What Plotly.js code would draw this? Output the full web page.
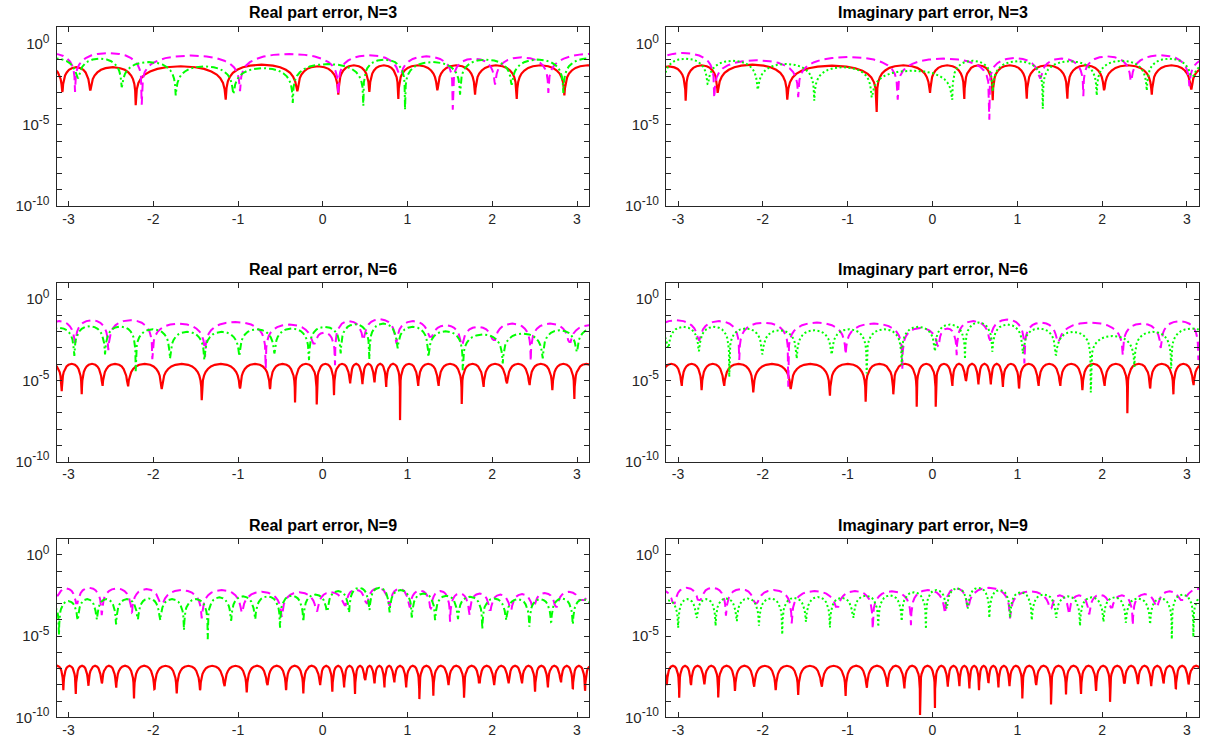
<!DOCTYPE html>
<html>
<head>
<meta charset="utf-8">
<script src="https://cdn.plot.ly/plotly-3.0.1.min.js"></script>
<style>
html,body{margin:0;padding:0;background:#ffffff;}
#chart{width:1205px;height:740px;}
</style>
</head>
<body>
<div id="chart"></div>
<script>
// ---------- tick labels / titles ----------
const xTickVals = [-3, -2, -1, 0, 1, 2, 3];
const xTickText = ['-3', '-2', '-1', '0', '1', '2', '3'];
const yLabelExps = [-10, -5, 0];
const yLabelText = ['10<sup><span style="font-size:12px">-10</span></sup>',
                    '10<sup><span style="font-size:12px">-5</span></sup>',
                    '10<sup><span style="font-size:12px">0</span></sup>'];
const yMinorExps = [-10, -9, -8, -7, -6, -5, -4, -3, -2, -1, 0, 1];
const panelTitles = ['Real part error, N=3', 'Imaginary part error, N=3',
                     'Real part error, N=6', 'Imaginary part error, N=6',
                     'Real part error, N=9', 'Imaginary part error, N=9'];

// ---------- data (x positions of error zeros, log10 depth there, log10 arch maxima) ----------
// Real part, N=3
const re3RedDipX = [-3.40, -3.073, -2.746, -2.207, -1.145, -0.300, 0.184, 0.550, 0.892, 1.352, 1.797, 2.289, 2.851, 3.40];
const re3RedDipLog = [-3.0, -2.97, -2.83, -3.79, -3.45, -2.93, -3.14, -2.97, -3.40, -2.87, -3.14, -3.40, -3.18, -3.0];
const re3RedPeakLog = [-1.45, -1.45, -1.45, -1.39, -1.29, -1.39, -1.33, -1.33, -1.33, -1.33, -1.33, -1.33, -1.33];
const re3MagDipX = [-3.50, -2.923, -2.136, -0.976, 0.184, 0.912, 1.534, 2.033, 2.662, 3.80];
const re3MagDipLog = [-2.0, -2.97, -3.75, -2.93, -3.14, -1.91, -4.06, -2.52, -3.03, -2.0];
const re3MagPeakLog = [-0.60, -0.57, -0.73, -0.63, -0.71, -0.78, -0.92, -0.84, -0.60];
const re3GrnDipX = [-3.45, -2.891, -2.372, -1.735, -1.055, -0.354, 0.479, 0.971, 1.620, 2.230, 2.839, 3.50];
const re3GrnDipLog = [-2.0, -2.10, -2.68, -3.18, -3.10, -3.65, -3.82, -4.06, -3.14, -2.52, -3.03, -2.0];
const re3GrnPeakLog = [-0.90, -0.92, -1.13, -1.39, -1.50, -1.25, -0.98, -1.13, -0.98, -0.98, -0.88];

// Imaginary part, N=3
const im3RedDipX = [-3.30, -2.910, -2.533, -1.712, -0.658, -0.029, 0.375, 0.710, 1.111, 1.590, 2.022, 2.585, 3.048, 3.50];
const im3RedDipLog = [-3.0, -3.51, -3.03, -3.45, -4.20, -3.03, -3.40, -3.48, -3.38, -3.38, -2.87, -3.14, -2.77, -3.0];
const im3RedPeakLog = [-1.40, -1.33, -1.29, -1.35, -1.33, -1.33, -1.33, -1.33, -1.33, -1.33, -1.33, -1.33, -1.40];
const im3MagDipX = [-3.31, -2.573, -1.583, -0.410, 0.670, 1.268, 1.778, 2.341, 3.028, 3.60];
const im3MagDipLog = [-2.0, -3.34, -3.30, -3.45, -4.68, -2.11, -3.24, -2.31, -2.62, -2.0];
const im3MagPeakLog = [-0.57, -1.02, -0.82, -0.92, -0.88, -0.92, -0.78, -0.71, -0.85];
const im3GrnDipX = [-3.17, -2.651, -2.061, -1.394, -0.717, 0.233, 0.710, 1.300, 1.936, 2.526, 3.057, 3.50];
const im3GrnDipLog = [-2.0, -2.48, -2.83, -3.51, -3.30, -3.45, -2.93, -4.00, -3.18, -2.89, -2.00, -2.0];
const im3GrnPeakLog = [-0.92, -1.05, -1.25, -1.45, -1.66, -1.05, -1.08, -1.08, -1.05, -0.92, -1.20];

// Real part, N=6
const re6RedDipX = [-3.32, -3.080, -2.844, -2.601, -2.301, -1.900, -1.428, -0.976, -0.622, -0.327, -0.071, 0.133, 0.322, 0.467, 0.609, 0.747, 0.912, 1.124, 1.364, 1.640, 1.895, 2.171, 2.438, 2.709, 2.969, 3.25];
const re6RedDipLog = [-5.5, -5.66, -5.85, -5.34, -5.37, -5.54, -6.22, -5.50, -5.54, -6.36, -6.48, -5.91, -5.19, -5.23, -5.13, -5.40, -7.45, -5.34, -5.34, -6.46, -5.40, -5.19, -5.29, -5.60, -6.15, -5.5];
const re6RedPeakLog = [-3.98, -3.98, -3.98, -3.98, -3.98, -3.98, -3.98, -3.98, -3.98, -3.98, -3.98, -3.98, -3.98, -3.98, -3.98, -3.98, -3.98, -3.98, -3.98, -3.98, -3.98, -3.98, -3.98, -3.98, -3.98];
const re6MagDipX = [-3.30, -2.923, -2.530, -2.011, -1.389, -0.673, -0.111, 0.145, 0.479, 0.865, 1.266, 1.640, 2.021, 2.454, 2.910, 3.40];
const re6MagDipLog = [-2.0, -2.63, -3.14, -3.69, -3.55, -4.26, -2.73, -4.06, -2.52, -2.73, -2.32, -2.83, -2.52, -3.82, -2.63, -2.0];
const re6MagPeakLog = [-1.35, -1.29, -1.29, -1.50, -1.40, -1.56, -2.05, -1.35, -1.23, -1.35, -1.60, -1.70, -1.50, -1.50, -1.60];
const re6GrnDipX = [-3.30, -2.931, -2.569, -2.207, -1.802, -1.397, -0.984, -0.571, -0.162, 0.212, 0.550, 0.880, 1.246, 1.652, 2.124, 2.596, 2.997, 3.40];
const re6GrnDipLog = [-3.0, -3.49, -3.40, -4.43, -3.65, -3.75, -3.51, -3.34, -3.75, -3.34, -3.69, -3.03, -3.55, -4.37, -3.96, -3.65, -3.24, -3.0];
const re6GrnPeakLog = [-1.75, -1.66, -1.68, -1.85, -2.01, -2.01, -1.85, -1.80, -1.70, -1.54, -1.50, -1.70, -1.97, -2.17, -2.11, -1.91, -1.80];

// Imaginary part, N=6
const im6RedDipX = [-3.20, -2.958, -2.722, -2.459, -2.113, -1.672, -1.209, -0.788, -0.462, -0.186, 0.038, 0.233, 0.392, 0.540, 0.686, 0.828, 1.020, 1.248, 1.504, 1.767, 2.026, 2.297, 2.565, 2.840, 3.075, 3.33];
const im6RedDipLog = [-5.5, -5.34, -5.60, -5.34, -5.74, -5.54, -5.95, -6.32, -5.86, -6.63, -6.63, -5.34, -5.03, -5.25, -5.25, -5.40, -5.50, -5.34, -5.34, -5.60, -5.34, -7.03, -5.50, -5.86, -5.29, -5.5];
const im6RedPeakLog = [-3.98, -3.98, -3.98, -3.98, -3.98, -3.98, -3.98, -3.98, -3.98, -3.98, -3.98, -3.98, -3.98, -3.98, -3.98, -3.98, -3.98, -3.98, -3.98, -3.98, -3.98, -3.98, -3.98, -3.98, -3.98];
const im6MagDipX = [-3.29, -2.754, -2.278, -1.700, -1.024, -0.356, 0.068, 0.285, 0.678, 1.083, 1.476, 2.243, 2.691, 3.134, 3.60];
const im6MagDipLog = [-2.0, -2.52, -3.75, -5.40, -3.40, -4.37, -2.93, -3.45, -2.52, -3.96, -2.63, -3.45, -3.00, -3.75, -2.0];
const im6MagPeakLog = [-1.29, -1.35, -1.44, -1.44, -1.50, -1.77, -1.80, -1.35, -1.25, -1.44, -1.44, -1.50, -1.35, -1.50];
const im6GrnDipX = [-3.50, -3.116, -2.754, -2.396, -2.007, -1.601, -1.189, -0.776, -0.363, 0.029, 0.383, 0.705, 1.064, 1.453, 1.866, 2.380, 2.813, 3.30];
const im6GrnDipLog = [-3.0, -3.00, -3.20, -4.78, -3.40, -3.65, -3.40, -4.57, -4.06, -3.20, -3.69, -3.24, -3.34, -3.45, -5.74, -4.17, -4.27, -3.0];
const im6GrnPeakLog = [-1.80, -1.70, -1.70, -1.80, -1.91, -1.91, -1.85, -1.85, -1.70, -1.56, -1.44, -1.56, -1.80, -2.01, -2.26, -2.01, -1.80];

// Real part, N=9
const re9RedDipX = [-3.20, -3.061, -2.914, -2.766, -2.608, -2.439, -2.227, -1.987, -1.723, -1.448, -1.161, -0.897, -0.654, -0.433, -0.229, -0.032, 0.113, 0.251, 0.381, 0.499, 0.609, 0.727, 0.841, 0.983, 1.140, 1.305, 1.482, 1.667, 1.848, 2.021, 2.190, 2.348, 2.505, 2.655, 2.808, 2.950, 3.095, 3.24];
const re9RedDipLog = [-8.0, -8.33, -8.57, -8.06, -7.91, -8.18, -8.84, -8.26, -8.53, -8.33, -8.08, -8.47, -8.02, -8.33, -8.53, -8.02, -8.43, -8.16, -8.57, -7.71, -7.91, -8.16, -7.85, -8.16, -8.88, -8.68, -8.02, -8.80, -7.85, -8.02, -7.85, -7.85, -8.43, -8.16, -7.85, -8.26, -8.37, -8.0];
const re9RedPeakLog = [-6.83, -6.83, -6.83, -6.83, -6.83, -6.83, -6.83, -6.83, -6.83, -6.83, -6.83, -6.83, -6.83, -6.83, -6.83, -6.83, -6.83, -6.83, -6.83, -6.83, -6.83, -6.83, -6.83, -6.83, -6.83, -6.83, -6.83, -6.83, -6.83, -6.83, -6.83, -6.83, -6.83, -6.83, -6.83, -6.83, -6.83];
const re9MagDipX = [-3.15, -2.903, -2.608, -2.254, -1.908, -1.428, -0.956, -0.484, -0.070, 0.263, 0.519, 0.786, 1.022, 1.274, 1.502, 1.730, 1.974, 2.218, 2.485, 2.753, 3.056, 3.40];
const re9MagDipLog = [-2.5, -2.99, -3.71, -3.55, -2.99, -3.91, -3.55, -3.82, -3.50, -3.10, -2.99, -3.10, -3.20, -3.30, -4.12, -3.71, -3.40, -3.40, -3.20, -3.20, -2.79, -2.5];
const re9MagPeakLog = [-2.07, -2.03, -2.07, -2.11, -2.17, -2.17, -2.28, -2.31, -2.30, -2.15, -2.05, -2.10, -2.20, -2.23, -2.38, -2.38, -2.45, -2.42, -2.35, -2.28, -2.30];
const re9GrnDipX = [-3.35, -3.112, -2.891, -2.667, -2.439, -2.183, -1.920, -1.637, -1.357, -1.082, -0.799, -0.504, -0.229, 0.054, 0.310, 0.550, 0.786, 1.050, 1.325, 1.593, 1.883, 2.163, 2.438, 2.694, 2.950, 3.20];
const re9GrnDipLog = [-3.5, -4.94, -4.02, -3.98, -4.28, -3.96, -4.02, -4.63, -5.19, -4.06, -3.96, -4.49, -4.12, -3.46, -3.55, -3.40, -3.55, -3.85, -4.02, -3.96, -4.57, -4.02, -4.43, -4.12, -4.28, -3.5];
const re9GrnPeakLog = [-2.90, -2.85, -2.73, -2.73, -2.73, -2.69, -2.73, -2.73, -2.62, -2.56, -2.56, -2.52, -2.45, -2.23, -2.03, -2.03, -2.17, -2.38, -2.52, -2.58, -2.69, -2.73, -2.73, -2.69, -2.73];

// Imaginary part, N=9
const im9RedDipX = [-3.28, -3.134, -2.986, -2.848, -2.691, -2.526, -2.329, -2.105, -1.849, -1.583, -1.307, -1.024, -0.776, -0.533, -0.333, -0.147, 0.029, 0.179, 0.316, 0.434, 0.548, 0.658, 0.776, 0.906, 1.059, 1.221, 1.397, 1.574, 1.751, 1.928, 2.093, 2.262, 2.420, 2.577, 2.722, 2.868, 3.017, 3.20];
const im9RedDipLog = [-8.0, -8.02, -8.80, -8.02, -7.98, -8.78, -8.37, -8.12, -8.33, -8.63, -8.12, -8.68, -8.18, -8.12, -8.22, -9.86, -9.42, -8.12, -8.08, -8.22, -8.33, -7.88, -8.16, -8.08, -8.84, -8.02, -9.21, -8.59, -8.57, -8.37, -9.05, -7.91, -7.96, -8.08, -7.91, -8.26, -7.98, -8.0];
const im9RedPeakLog = [-6.83, -6.83, -6.83, -6.83, -6.83, -6.83, -6.83, -6.83, -6.83, -6.83, -6.83, -6.83, -6.83, -6.83, -6.83, -6.83, -6.83, -6.83, -6.83, -6.83, -6.83, -6.83, -6.83, -6.83, -6.83, -6.83, -6.83, -6.83, -6.83, -6.83, -6.83, -6.83, -6.83, -6.83, -6.83, -6.83, -6.83];
const im9MagDipX = [-3.35, -3.048, -2.750, -2.435, -2.085, -1.660, -1.123, -0.705, -0.254, 0.147, 0.415, 0.914, 1.394, 1.608, 1.846, 2.105, 2.361, 2.644, 2.946, 3.40];
const im9MagDipLog = [-2.5, -2.99, -2.79, -3.75, -2.99, -4.22, -3.20, -4.57, -4.33, -3.61, -3.30, -3.91, -3.30, -3.67, -3.67, -3.24, -4.33, -3.20, -2.79, -2.5];
const im9MagPeakLog = [-2.17, -2.03, -2.03, -2.11, -2.17, -2.23, -2.23, -2.25, -2.17, -2.07, -2.03, -2.25, -2.50, -2.50, -2.46, -2.50, -2.42, -2.25, -2.07];
const im9GrnDipX = [-3.25, -2.998, -2.781, -2.557, -2.309, -2.046, -1.771, -1.492, -1.209, -0.934, -0.639, -0.363, -0.077, 0.167, 0.415, 0.670, 0.914, 1.170, 1.456, 1.739, 2.014, 2.278, 2.565, 2.821, 3.075, 3.35];
const im9GrnDipLog = [-3.5, -4.49, -3.88, -4.37, -4.08, -4.37, -4.90, -4.12, -4.47, -3.88, -4.43, -4.08, -4.57, -3.30, -3.30, -3.88, -3.88, -4.02, -3.88, -4.37, -4.12, -4.18, -4.28, -5.19, -5.05, -3.5];
const im9GrnPeakLog = [-2.79, -2.73, -2.73, -2.69, -2.69, -2.69, -2.65, -2.60, -2.65, -2.52, -2.50, -2.31, -2.17, -2.07, -2.03, -2.17, -2.31, -2.44, -2.56, -2.62, -2.62, -2.69, -2.69, -2.45, -2.50];

// ---------- drawing style ----------
// shape of one arch between two zeros (fraction of the span, decades below the arch maximum)
const ARCH_T = [0, 0.012, 0.03, 0.06, 0.10, 0.16, 0.24, 0.34, 0.5, 0.66, 0.76, 0.84, 0.90, 0.94, 0.97, 0.988];
const ARCH_DROP = [0, -1.42, -1.03, -0.73, -0.51, -0.32, -0.16, -0.06, 0, -0.06, -0.16, -0.32, -0.51, -0.73, -1.03, -1.42];

function buildCurve(dipX, dipLog, peakLog) {
  const xs = [], ys = [];
  for (let i = 0; i < peakLog.length; i++) {
    const a = dipX[i], b = dipX[i + 1];
    xs.push(a); ys.push(Math.pow(10, dipLog[i]));
    for (let k = 1; k < ARCH_T.length; k++) {
      const t = ARCH_T[k];
      let v = peakLog[i] + ARCH_DROP[k];
      const floor = t < 0.5 ? dipLog[i] : dipLog[i + 1];
      if (v < floor) v = floor;
      xs.push(a + t * (b - a)); ys.push(Math.pow(10, v));
    }
  }
  xs.push(dipX[dipX.length - 1]); ys.push(Math.pow(10, dipLog[dipLog.length - 1]));
  return {xs, ys};
}

const panels = [
  {red: [re3RedDipX, re3RedDipLog, re3RedPeakLog], mag: [re3MagDipX, re3MagDipLog, re3MagPeakLog], grn: [re3GrnDipX, re3GrnDipLog, re3GrnPeakLog], real: true},
  {red: [im3RedDipX, im3RedDipLog, im3RedPeakLog], mag: [im3MagDipX, im3MagDipLog, im3MagPeakLog], grn: [im3GrnDipX, im3GrnDipLog, im3GrnPeakLog], real: false},
  {red: [re6RedDipX, re6RedDipLog, re6RedPeakLog], mag: [re6MagDipX, re6MagDipLog, re6MagPeakLog], grn: [re6GrnDipX, re6GrnDipLog, re6GrnPeakLog], real: true},
  {red: [im6RedDipX, im6RedDipLog, im6RedPeakLog], mag: [im6MagDipX, im6MagDipLog, im6MagPeakLog], grn: [im6GrnDipX, im6GrnDipLog, im6GrnPeakLog], real: false},
  {red: [re9RedDipX, re9RedDipLog, re9RedPeakLog], mag: [re9MagDipX, re9MagDipLog, re9MagPeakLog], grn: [re9GrnDipX, re9GrnDipLog, re9GrnPeakLog], real: true},
  {red: [im9RedDipX, im9RedDipLog, im9RedPeakLog], mag: [im9MagDipX, im9MagDipLog, im9MagPeakLog], grn: [im9GrnDipX, im9GrnDipLog, im9GrnPeakLog], real: false}
];

const W = 1205, H = 740;
const colPx = [[56.5, 589], [666, 1199]];
const rowPx = [[27.4, 206.2], [283, 461.5], [538.5, 717.3]];
const titlePx = [12.5, 269.5, 525.5];
const axisColor = '#262626';
const fontFamily = 'Liberation Sans, Arial, Helvetica, sans-serif';

const traces = [];
const layout = {
  width: W, height: H,
  margin: {l: 0, r: 0, t: 0, b: 0, pad: 0},
  paper_bgcolor: '#ffffff', plot_bgcolor: '#ffffff',
  showlegend: false,
  annotations: []
};

panels.forEach((p, i) => {
  const n = i + 1;
  const suf = n === 1 ? '' : String(n);
  const col = i % 2, row = Math.floor(i / 2);
  const xdom = [colPx[col][0] / W, colPx[col][1] / W];
  const ydom = [1 - rowPx[row][1] / H, 1 - rowPx[row][0] / H];

  layout['xaxis' + suf] = {
    domain: xdom, anchor: 'y' + suf, range: [-Math.PI, Math.PI],
    tickmode: 'array', tickvals: xTickVals, ticktext: xTickText,
    ticks: 'inside', ticklen: 5, tickcolor: axisColor, tickwidth: 1,
    showline: true, linecolor: axisColor, linewidth: 1, mirror: 'ticks',
    showgrid: false, zeroline: false,
    tickfont: {family: fontFamily, size: 14, color: axisColor}, fixedrange: true
  };
  layout['yaxis' + suf] = {
    domain: ydom, anchor: 'x' + suf, type: 'log', range: [-10, 1],
    tickmode: 'array', tickvals: yLabelExps.map(e => Math.pow(10, e)), ticktext: yLabelText,
    ticks: 'inside', ticklen: 5, tickcolor: axisColor, tickwidth: 1,
    minor: {tickmode: 'array', tickvals: yMinorExps.map(e => Math.pow(10, e)),
            ticks: 'inside', ticklen: 5, tickcolor: axisColor, tickwidth: 1, showgrid: false},
    showline: true, linecolor: axisColor, linewidth: 1, mirror: 'ticks',
    showgrid: false, zeroline: false, ticklabelstandoff: 3,
    tickfont: {family: fontFamily, size: 15, color: axisColor}, fixedrange: true
  };
  layout.annotations.push({
    xref: 'paper', yref: 'paper',
    x: (xdom[0] + xdom[1]) / 2, y: 1 - titlePx[row] / H,
    xanchor: 'center', yanchor: 'middle', showarrow: false,
    text: panelTitles[i],
    font: {family: fontFamily, size: 16, color: '#000000', weight: 'bold'}
  });

  const red = buildCurve(p.red[0], p.red[1], p.red[2]);
  const mag = buildCurve(p.mag[0], p.mag[1], p.mag[2]);
  const grn = buildCurve(p.grn[0], p.grn[1], p.grn[2]);
  traces.push({type: 'scatter', mode: 'lines', x: red.xs, y: red.ys, xaxis: 'x' + suf, yaxis: 'y' + suf,
    line: {color: '#ff0000', width: 2.2}, hoverinfo: 'skip'});
  traces.push({type: 'scatter', mode: 'lines', x: mag.xs, y: mag.ys, xaxis: 'x' + suf, yaxis: 'y' + suf,
    line: {color: '#ff00ff', width: 2, dash: '9px,5px'}, hoverinfo: 'skip'});
  traces.push({type: 'scatter', mode: 'lines', x: grn.xs, y: grn.ys, xaxis: 'x' + suf, yaxis: 'y' + suf,
    line: {color: '#00ff00', width: 2, dash: p.real ? '7px,3px,2px,3px' : '2px,2.5px'}, hoverinfo: 'skip'});
});

Plotly.newPlot('chart', traces, layout, {staticPlot: true, displayModeBar: false});
</script>
</body>
</html>
